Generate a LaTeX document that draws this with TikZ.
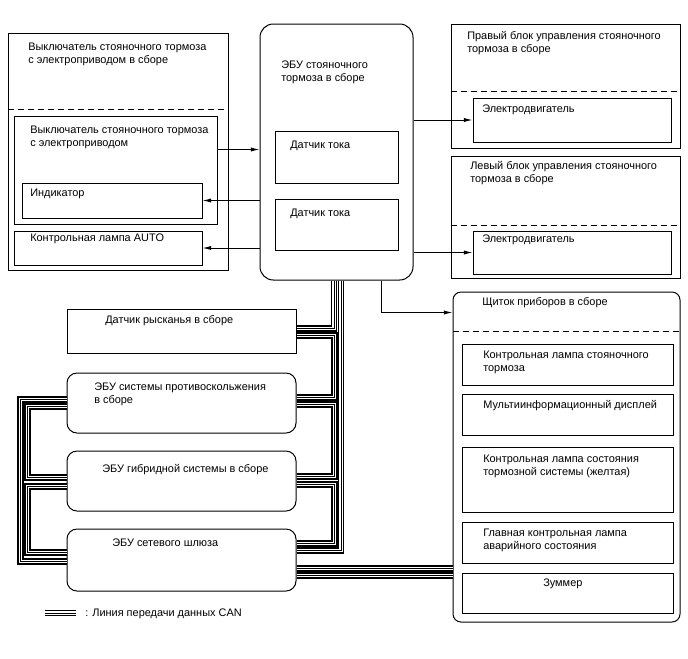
\documentclass[tikz,border=0pt]{standalone}
\usepackage{fontspec}
\setmainfont{Liberation Sans}
\usetikzlibrary{arrows.meta,fit}
\tikzset{
  unitbox/.style={draw,line width=0.75pt,inner sep=0pt},
  roundbox/.style={unitbox,rounded corners=7.5pt},
  divider/.style={line width=0.75pt,dash pattern=on 4.5pt off 3pt},
  sig/.style={-{Latex[length=6.5pt,width=3.2pt]},line width=0.75pt},
  canbus/.style={line width=5pt,postaction={draw=white,line width=2.6pt},postaction={draw=black,line width=0.5pt}},
  lbl/.style={anchor=base west,align=left,inner sep=0pt,font=\fontsize{8.2}{9.75}\selectfont}
}
\begin{document}
\begin{tikzpicture}[x=0.75pt,y=-0.75pt]
\useasboundingbox (0,0) rectangle (688,658);
% switch assembly
\node[unitbox,fit={(8,33) (228,270)}] (swasm) {};
\draw[divider] ([shift={(0,77)}]swasm.north west) -- ([shift={(0,77)}]swasm.north east);
\node[unitbox,fit={(14,116) (217,224)}] (swin) {};
\node[unitbox,fit={(22,183) (202,218)}] (ind) {};
\node[unitbox,fit={(14,231) (202,265)}] (autolamp) {};
\node[lbl] (swasm-t) at (28,63) {Выключатель стояночного тормоза\\с электроприводом в сборе};
\node[lbl] (swin-t) at (30,146) {Выключатель стояночного тормоза\\с электроприводом};
\node[lbl] (ind-t) at (30,196) {Индикатор};
\node[lbl] (autolamp-t) at (30,241) {Контрольная лампа AUTO};
% parking brake ECU
\node[unitbox,rounded corners=10pt,fit={(260,24) (413,280)}] (ecu) {};
\node[unitbox,fit={(275,131) (398,183)}] (cs1) {};
\node[unitbox,fit={(275,199) (398,250)}] (cs2) {};
\node[lbl] (ecu-t) at (281,81) {ЭБУ стояночного\\тормоза в сборе};
\node[lbl] (cs1-t) at (290,148) {Датчик тока};
\node[lbl] (cs2-t) at (290,216) {Датчик тока};
% actuators
\node[unitbox,fit={(451,24) (680,148)}] (rctl) {};
\draw[divider] ([shift={(0,68)}]rctl.north west) -- ([shift={(0,68)}]rctl.north east);
\node[unitbox,fit={(473,98) (671,142)}] (mot1) {};
\node[unitbox,fit={(451,156) (680,278)}] (lctl) {};
\draw[divider] ([shift={(0,70)}]lctl.north west) -- ([shift={(0,70)}]lctl.north east);
\node[unitbox,fit={(473,231) (671,274)}] (mot2) {};
\node[lbl] (rctl-t) at (467,52.5) {Правый блок управления стояночного\\тормоза в сборе};
\node[lbl] (mot1-t) at (482,112) {Электродвигатель};
\node[lbl] (lctl-t) at (470,182) {Левый блок управления стояночного\\тормоза в сборе};
\node[lbl] (mot2-t) at (482,242.5) {Электродвигатель};
% combination meter
\node[unitbox,rounded corners=6pt,fit={(453,292) (680,622)}] (panel) {};
\draw[divider] ([shift={(0,40)}]panel.north west) -- ([shift={(0,40)}]panel.north east);
\node[unitbox,fit={(462,344) (673,385)}] (lpb) {};
\node[unitbox,fit={(462,394) (673,435)}] (mid) {};
\node[unitbox,fit={(462,447) (673,512)}] (brk) {};
\node[unitbox,fit={(462,522) (673,563)}] (mil) {};
\node[unitbox,fit={(462,573) (673,613)}] (buz) {};
\node[lbl] (panel-t) at (482,305) {Щиток приборов в сборе};
\node[lbl] (lpb-t) at (483,371.5) {Контрольная лампа стояночного\\тормоза};
\node[lbl] (mid-t) at (483,408) {Мультиинформационный дисплей};
\node[lbl] (brk-t) at (483,475) {Контрольная лампа состояния\\тормозной системы (желтая)};
\node[lbl] (mil-t) at (483,549) {Главная контрольная лампа\\аварийного состояния};
\node[lbl] (buz-t) at (543,586) {Зуммер};
% CAN nodes
\node[unitbox,fit={(67,309) (296,353)}] (yaw) {};
\node[roundbox,fit={(67,373) (296,433)}] (abs) {};
\node[roundbox,fit={(67,451) (296,511)}] (hyb) {};
\node[roundbox,fit={(67,529) (296,591)}] (gw) {};
\node[lbl] (yaw-t) at (105,323) {Датчик рысканья в сборе};
\node[lbl] (abs-t) at (94,403) {ЭБУ системы противоскольжения\\в сборе};
\node[lbl] (hyb-t) at (102,472) {ЭБУ гибридной системы в сборе};
\node[lbl] (gw-t) at (112,546.5) {ЭБУ сетевого шлюза};

% signal wires
\draw[sig] ([shift={(0,34)}]swin.north east) coordinate (swout) -- (swout -| ecu.west);
\draw[sig] (ind.east -| ecu.west) -- (ind.east);
\draw[sig] (autolamp.east -| ecu.west) -- (autolamp.east);
\draw[sig] (mot1.west -| ecu.east) -- (mot1.west);
\draw[sig] (mot2.west -| ecu.east) -- (mot2.west);
\draw[sig] ([shift={(44.5,0)}]ecu.south) |- ([shift={(0,21)}]panel.north west);

% CAN lines
\draw[canbus] ([shift={(-2.5,0)}]ecu.south) |- ([shift={(0,20)}]yaw.north east);
\draw[canbus] ([shift={(0,27)}]yaw.north east) -- ++(38,0) |- ([shift={(0,25)}]abs.north east);
\draw[canbus] ([shift={(0,32)}]abs.north east) -- ++(38,0) |- ([shift={(0,26)}]hyb.north east);
\draw[canbus] ([shift={(0,34)}]hyb.north east) -- ++(38,0) |- ([shift={(0,15)}]gw.north east);
\draw[canbus] ([shift={(4.5,0)}]ecu.south) |- ([shift={(0,22)}]gw.north east);
\draw[canbus] ([shift={(0,27)}]abs.north west) -- ++(-46,0) |- ([shift={(0,33)}]gw.north west);
\draw[canbus] ([shift={(0,34)}]abs.north west) -- ++(-39,0) |- ([shift={(0,27)}]hyb.north west);
\draw[canbus] ([shift={(0,36)}]hyb.north west) -- ++(-39,0) |- ([shift={(0,24)}]gw.north west);
\draw[canbus] ([shift={(0,40)}]gw.north east) coordinate (gwa) -- (gwa -| panel.west);
\draw[canbus] ([shift={(0,47)}]gw.north east) coordinate (gwb) -- (gwb -| panel.west);

% legend
\coordinate (leg0) at (45,613);
\coordinate (leg1) at (76,613);
\draw[canbus] (leg0) -- (leg1);
\node[lbl] (leg-t) at (85,616.5) {: Линия передачи данных CAN};
\end{tikzpicture}
\end{document}
